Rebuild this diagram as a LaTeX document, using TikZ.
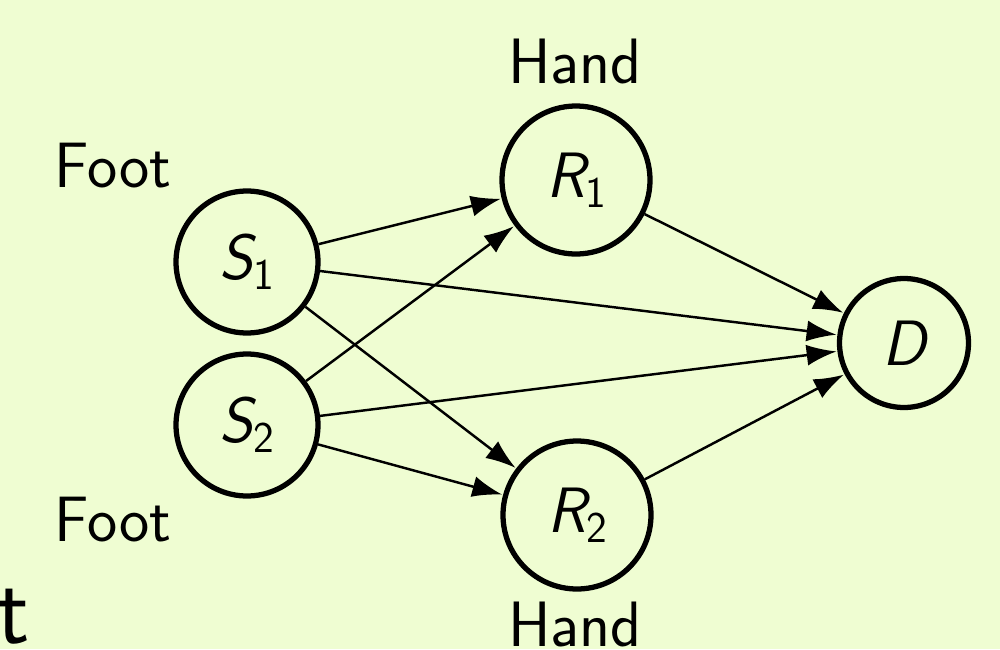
\documentclass[tikz,border=0pt]{standalone}
\usetikzlibrary{arrows.meta}
\definecolor{bg}{RGB}{239,253,210}
\newcommand\vlab[2]{{\itshape #1}\raisebox{-5.7pt}{\fontsize{25}{28}\selectfont\upshape #2}}
\begin{document}
\begin{tikzpicture}[x=0.02cm,y=-0.02cm,
  every node/.style={font=\fontsize{36.5}{42}\selectfont\sffamily},
  vert/.style={circle,draw,line width=3pt,inner sep=0pt},
  conn/.style={line width=1.4pt,-{Latex[length=17pt,width=12pt]},shorten >=0.5pt},
  lab/.style={inner sep=0pt}]
\fill[bg] (0,0) rectangle (1000,649);
\useasboundingbox (0,0) rectangle (1000,649);
\clip (0,0) rectangle (1000,649);
\node[vert,minimum size=2.84cm] (S1) at (247,262) {\vlab{S}{1}};
\node[vert,minimum size=2.84cm] (S2) at (247,425) {\vlab{S}{2}};
\node[vert,minimum size=2.96cm] (R1) at (576,180) {\vlab{R}{1}};
\node[vert,minimum size=2.96cm] (R2) at (577,515) {\vlab{R}{2}};
\node[vert,minimum size=2.58cm] (D) at (904,343) {\itshape D};
\node[lab,anchor=base] (h1) at (575,83) {Hand};
\node[lab,anchor=base] (h2) at (575,646) {Hand};
\node[lab,anchor=base] (f1) at (113,187) {Foot};
\node[lab,anchor=base] (f2) at (113,541) {Foot};
\node[lab,anchor=base west,font=\fontsize{56}{60}\selectfont\sffamily] (t) at (-4,643) {t};
\draw[conn] (S1) -- (R1);
\draw[conn] (S1) -- (D);
\draw[conn] (S1) -- (R2);
\draw[conn] (S2) -- (R1);
\draw[conn] (S2) -- (D);
\draw[conn] (S2) -- (R2);
\draw[conn] (R1) -- (D);
\draw[conn] (R2) -- (D);
\end{tikzpicture}
\end{document}
